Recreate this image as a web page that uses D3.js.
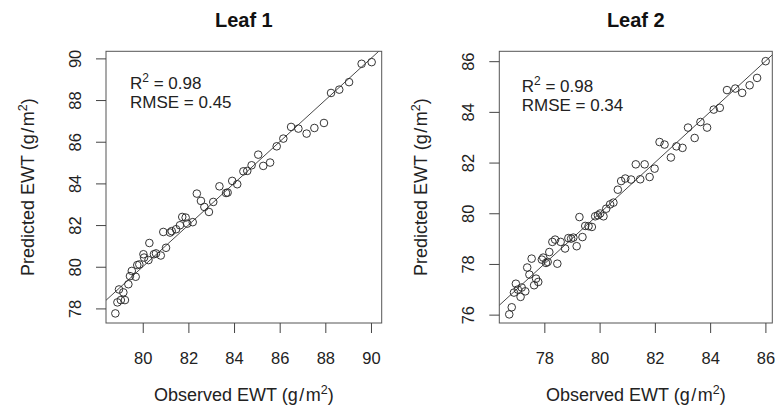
<!DOCTYPE html>
<html>
<head>
<meta charset="utf-8">
<script src="https://cdn.jsdelivr.net/npm/d3@7"></script>
<style>
  html, body { margin: 0; padding: 0; background: #fff; }
  svg { display: block; font-family: "Liberation Sans", Arial, sans-serif; }
</style>
</head>
<body>
<svg id="chart" width="775" height="407"></svg>
<script>
// ---- Data ----
const panelTitles = ["Leaf 1", "Leaf 2"];
const r2Labels = ["0.98", "0.98"];
const rmseLabels = ["0.45", "0.34"];

const leaf1Observed = [78.80,78.89,79.04,79.22,78.96,79.15,79.37,79.44,79.52,79.69,79.76,79.85,80.03,80.06,80.25,80.29,80.49,80.58,80.79,81.02,80.90,81.20,81.27,81.46,81.63,81.73,81.88,81.95,82.19,82.37,82.55,82.70,82.90,83.09,83.36,83.65,83.72,83.92,84.14,84.41,84.58,84.77,85.06,85.28,85.58,85.87,86.16,86.50,86.82,87.18,87.52,87.94,88.25,88.61,89.04,89.59,90.03];
const leaf1Predicted = [77.76,78.29,78.40,78.40,78.91,78.77,79.16,79.55,79.80,79.52,80.08,80.11,80.60,80.44,80.32,81.14,80.60,80.64,80.54,80.91,81.67,81.64,81.71,81.80,81.99,82.39,82.36,82.07,82.14,83.51,83.16,82.87,82.63,83.11,83.86,83.54,83.56,84.12,83.96,84.58,84.60,84.87,85.38,84.84,85.00,85.78,86.15,86.71,86.63,86.39,86.66,86.90,88.34,88.50,88.86,89.74,89.82];

const leaf2Observed = [76.73,76.82,76.90,76.97,77.04,77.14,77.18,77.31,77.38,77.46,77.54,77.63,77.70,77.78,77.91,77.96,78.06,78.12,78.18,78.47,78.29,78.39,78.59,78.75,78.87,78.97,79.05,79.17,79.38,79.27,79.48,79.60,79.72,79.84,79.94,80.02,80.14,80.24,80.38,80.50,80.66,80.78,80.93,81.14,81.47,81.81,81.31,81.63,81.99,82.17,82.35,82.58,82.78,83.00,83.20,83.44,83.65,83.89,84.13,84.35,84.61,84.91,85.16,85.43,85.70,86.01];
const leaf2Predicted = [76.01,76.29,76.87,77.22,76.99,76.70,77.07,76.92,77.86,77.58,78.21,77.16,77.42,77.29,78.17,78.25,78.04,78.08,78.47,78.01,78.87,78.96,78.87,78.61,79.02,79.00,79.04,78.70,79.06,79.85,79.50,79.49,79.46,79.88,79.92,79.99,79.88,80.18,80.35,80.42,80.93,81.27,81.37,81.33,81.34,81.43,81.93,81.93,81.76,82.81,82.71,82.20,82.64,82.58,83.38,82.97,83.60,83.38,84.09,84.16,84.86,84.92,84.75,85.05,85.34,86.00];

const leaf1XTicks = [80, 82, 84, 86, 88, 90];
const leaf1YTicks = [78, 80, 82, 84, 86, 88, 90];
const leaf2XTicks = [78, 80, 82, 84, 86];
const leaf2YTicks = [76, 78, 80, 82, 84, 86];

const leaf1XDomain = [78.39, 90.47];
const leaf1YDomain = [77.30, 90.34];
const leaf2XDomain = [76.37, 86.25];
const leaf2YDomain = [75.67, 86.39];

// ---- Layout ----
const panels = [
  { title: panelTitles[0], obs: leaf1Observed, pred: leaf1Predicted, xTicks: leaf1XTicks, yTicks: leaf1YTicks,
    xDom: leaf1XDomain, yDom: leaf1YDomain, left: 106, right: 381.7, statDy: 0, statDx: 24 },
  { title: panelTitles[1], obs: leaf2Observed, pred: leaf2Predicted, xTicks: leaf2XTicks, yTicks: leaf2YTicks,
    xDom: leaf2XDomain, yDom: leaf2YDomain, left: 499.3, right: 772.3, statDy: 2.5, statDx: 22.4 }
];
const plotTop = 51.3, plotBottom = 323;
const svg = d3.select("#chart");
const ink = "#222";

panels.forEach((p, i) => {
  const x = d3.scaleLinear().domain(p.xDom).range([p.left, p.right]);
  const y = d3.scaleLinear().domain(p.yDom).range([plotBottom, plotTop]);
  const g = svg.append("g");
  const cx = (p.left + p.right) / 2;

  // clip for 1:1 line
  const clipId = "clip" + i;
  svg.append("defs").append("clipPath").attr("id", clipId)
    .append("rect").attr("x", p.left).attr("y", plotTop).attr("width", p.right - p.left).attr("height", plotBottom - plotTop);

  // 1:1 line
  const lo = Math.min(p.xDom[0], p.yDom[0]) - 1, hi = Math.max(p.xDom[1], p.yDom[1]) + 1;
  g.append("line").attr("clip-path", `url(#${clipId})`)
    .attr("x1", x(lo)).attr("y1", y(lo)).attr("x2", x(hi)).attr("y2", y(hi))
    .attr("stroke", "#333").attr("stroke-width", 0.9);

  // points
  g.selectAll("circle.pt").data(p.obs.map((o, k) => [o, p.pred[k]])).enter()
    .append("circle").attr("class", "pt")
    .attr("cx", d => x(d[0])).attr("cy", d => y(d[1])).attr("r", 3.8)
    .attr("fill", "none").attr("stroke", "#2a2a2a").attr("stroke-width", 0.95);

  // box
  g.append("rect").attr("x", p.left).attr("y", plotTop).attr("width", p.right - p.left).attr("height", plotBottom - plotTop)
    .attr("fill", "none").attr("stroke", "#555").attr("stroke-width", 1);

  // x axis
  const xa = g.append("g").attr("transform", `translate(0,${plotBottom})`)
    .call(d3.axisBottom(x).tickValues(p.xTicks).tickSize(10).tickSizeOuter(0).tickFormat(d3.format("d")));
  xa.select(".domain").remove();
  xa.selectAll(".tick line").attr("stroke", "#444");
  xa.selectAll(".tick text").attr("y", 40.5).attr("dy", null)
    .attr("font-size", 16.5).attr("fill", ink).attr("font-family", "Liberation Sans, Arial, sans-serif");

  // y axis
  const ya = g.append("g").attr("transform", `translate(${p.left},0)`)
    .call(d3.axisLeft(y).tickValues(p.yTicks).tickSize(10).tickSizeOuter(0).tickFormat(d3.format("d")));
  ya.select(".domain").remove();
  ya.selectAll(".tick line").attr("stroke", "#444");
  ya.selectAll(".tick text").attr("x", null).attr("dy", null)
    .attr("transform", "translate(-25,0) rotate(-90)").attr("text-anchor", "middle")
    .attr("font-size", 16.5).attr("fill", ink).attr("font-family", "Liberation Sans, Arial, sans-serif");

  // title
  g.append("text").attr("x", cx).attr("y", 26.7).attr("text-anchor", "middle")
    .attr("font-size", 20).attr("font-weight", "bold").attr("fill", "#111").text(p.title);

  // axis titles
  const xt = g.append("text").attr("x", cx).attr("y", 400.5).attr("text-anchor", "middle")
    .attr("font-size", 18).attr("fill", ink);
  xt.append("tspan").text("Observed EWT (g\u200a/\u200am");
  xt.append("tspan").attr("font-size", 12.5).attr("dy", -7).text("2");
  xt.append("tspan").attr("dy", 7).text(")");

  const yt = g.append("text").attr("transform", `translate(${p.left - 72},${(plotTop + plotBottom) / 2}) rotate(-90)`)
    .attr("text-anchor", "middle").attr("font-size", 18).attr("fill", ink);
  yt.append("tspan").text("Predicted EWT (g\u200a/\u200am");
  yt.append("tspan").attr("font-size", 12.5).attr("dy", -7).text("2");
  yt.append("tspan").attr("dy", 7).text(")");

  // stats
  const sx = p.left + p.statDx;
  const t1 = g.append("text").attr("x", sx).attr("y", 89.3 + p.statDy).attr("font-size", 17).attr("fill", ink);
  t1.append("tspan").text("R");
  t1.append("tspan").attr("font-size", 12).attr("dy", -7).text("2");
  t1.append("tspan").attr("dy", 7).text(" = " + r2Labels[i]);
  g.append("text").attr("x", sx).attr("y", 108.3 + p.statDy).attr("font-size", 17).attr("fill", ink)
    .text("RMSE = " + rmseLabels[i]);
});
</script>
</body>
</html>
